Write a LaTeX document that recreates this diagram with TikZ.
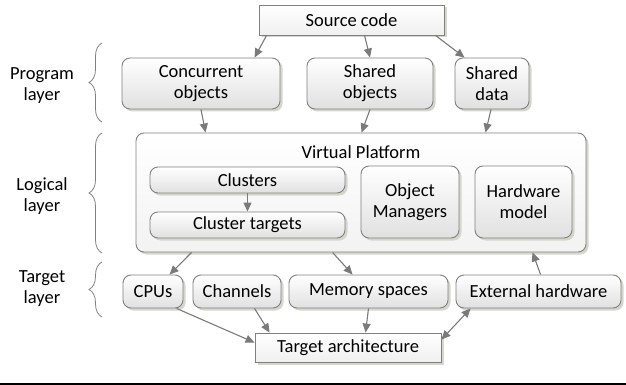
\documentclass[tikz,border=0pt]{standalone}
\usepackage{fontspec}
\setmainfont{Carlito}
\usetikzlibrary{arrows.meta,shadows,decorations.pathreplacing,calc}
\definecolor{bord}{HTML}{808080}
\definecolor{shad}{HTML}{D6D6CE}
\definecolor{arr}{HTML}{7A7A7A}
\tikzset{
  box/.style={draw=bord, line width=0.9pt, rounded corners=8pt, top color=white, bottom color=black!12,
     drop shadow={shadow xshift=2.5pt, shadow yshift=-2.5pt, fill=shad, opacity=1},
     align=center, inner sep=0pt, font=\fontsize{18.5}{21}\selectfont},
  rbox/.style={box, rounded corners=0pt, top color=white, bottom color=black!6},
  conn/.style={draw=arr, line width=1.1pt, -{Triangle[length=9pt,width=8pt]}, shorten >=0pt},
  dconn/.style={conn, {Triangle[length=9pt,width=8pt]}-{Triangle[length=9pt,width=8pt]}},
  brc/.style={draw=bord, line width=0.8pt, decorate, decoration={brace, amplitude=13pt, aspect=0.5}},
  lbl/.style={align=center, font=\fontsize{18.5}{21}\selectfont}
}
\begin{document}
\begin{tikzpicture}[x=1pt,y=-1pt]
\useasboundingbox (0,0) rectangle (626,385);
% bottom rule
\draw[line width=1.6pt, black] (0,384) coordinate (bl) -- (626,384) coordinate (br);

% program layer
\node[rbox, minimum width=185pt, minimum height=30pt] (src) at (351.5,20) {Source code};
\node[box, minimum width=158pt, minimum height=51pt] (conc) at (201,83.5) {Concurrent\\objects};
\node[box, minimum width=126pt, minimum height=51pt] (sobj) at (370,83.5) {Shared\\objects};
\node[box, minimum width=74pt, minimum height=51pt] (sdata) at (492,83.5) {Shared\\data};

% logical layer
\node[box, top color=white, bottom color=black!5, minimum width=450pt, minimum height=119pt] (vp) at (361,192.5) {};
\node[lbl] (vpt) at (361,152) {Virtual Platform};
\node[box, minimum width=195pt, minimum height=26pt] (clu) at (247.5,180) {Clusters};
\node[box, minimum width=195pt, minimum height=26pt] (ctg) at (247.5,225) {Cluster targets};
\node[box, minimum width=98pt, minimum height=72pt] (om) at (410,202) {Object\\Managers};
\node[box, minimum width=97pt, minimum height=72pt] (hw) at (523.5,202) {Hardware\\model};

% target layer
\node[box, minimum width=60pt, minimum height=33pt] (cpu) at (153,291.5) {CPUs};
\node[box, minimum width=88pt, minimum height=33pt] (chan) at (237,291.5) {Channels};
\node[box, minimum width=159pt, minimum height=33pt] (mem) at (368.5,291.5) {Memory spaces};
\node[box, minimum width=165pt, minimum height=33pt] (ext) at (538.5,291.5) {External hardware};
\node[rbox, minimum width=186pt, minimum height=29pt] (tarch) at (348,347.5) {Target architecture};

% labels
\node[lbl] (lp) at (42,86) {Program\\layer};
\node[lbl] (ll) at (42,196) {Logical\\layer};
\node[lbl] (lt) at (42,289) {Target\\layer};

% braces
\draw[brc] (102,122) coordinate (b1s) -- (102,43) coordinate (b1e);
\draw[brc] (102,253) coordinate (b2s) -- (102,133) coordinate (b2e);
\draw[brc] (102,317) coordinate (b3s) -- (102,262) coordinate (b3e);

% connectors
\draw[conn] ([xshift=8pt]src.south west) -- ([xshift=133pt]conc.north west);
\draw[conn] ([xshift=106pt]src.south west) -- (sobj.north);
\draw[conn] ([xshift=177pt]src.south west) -- ([xshift=10pt]sdata.north west);
\draw[conn] (conc.south) -- ([xshift=70pt]vp.north west);
\draw[conn] (sobj.south) -- ([xshift=226pt]vp.north west);
\draw[conn] ([xshift=-1pt]sdata.south) -- ([xshift=350pt]vp.north west);
\draw[conn] (clu.south) -- (ctg.north);
\draw[conn] ([xshift=56pt]vp.south west) -- ([xshift=47pt]cpu.north west);
\draw[conn] ([xshift=197pt]vp.south west) -- ([xshift=64pt]mem.north west);
\draw[conn] ([xshift=85pt]ext.north west) -- ([xshift=397pt]vp.south west);
\draw[conn] ([xshift=54pt]cpu.south west) -- ([yshift=-10pt]tarch.north west);
\draw[conn] ([xshift=62pt]chan.south west) -- ([xshift=15pt]tarch.north west);
\draw[conn] (mem.south) -- ([xshift=111pt]tarch.north west);
\draw[dconn] ([xshift=15pt]ext.south west) -- ([yshift=-7pt]tarch.north east);
\end{tikzpicture}
\end{document}
